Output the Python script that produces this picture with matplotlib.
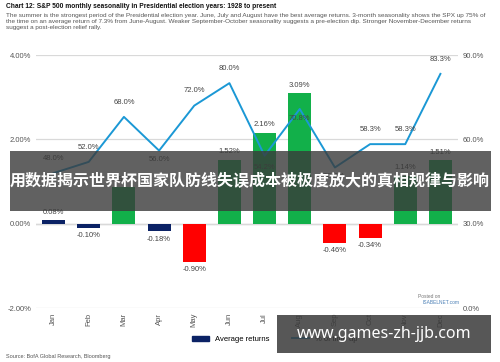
import matplotlib.pyplot as plt
import matplotlib.patches as mpatches
from matplotlib.lines import Line2D

months = ["Jan", "Feb", "Mar", "Apr", "May", "Jun", "Jul", "Aug", "Sep", "Oct", "Nov", "Dec"]
avg_returns = [0.08, -0.10, 0.86, -0.18, -0.90, 1.52, 2.16, 3.09, -0.46, -0.34, 1.14, 1.51]
pct_up = [48.0, 52.0, 68.0, 56.0, 72.0, 80.0, 54.2, 70.8, 50.0, 58.3, 58.3, 83.3]
left_ticks = [-2, 0, 2, 4]
right_ticks = [0, 30, 60, 90]

title = "Chart 12: S&P 500 monthly seasonality in Presidential election years: 1928 to present"
subtitle = ("The summer is the strongest period of the Presidential election year. June, July and August have the best average returns. 3-month seasonality shows the SPX up 75% of\n"
            "the time on an average return of 7.3% from June-August. Weaker September-October seasonality suggests a pre-election dip. Stronger November-December returns\n"
            "suggest a post-election relief rally.")
banner = "用数据揭示世界杯国家队防线失误成本被极度放大的真相规律与影响"
site = "www.games-zh-jjb.com"

NAVY = "#0b2265"
GREEN = "#12b04a"
RED = "#ff0000"
BLUE = "#1b98d5"


def bar_color(v):
    if v < -0.3:
        return RED
    if v > 0.5:
        return GREEN
    return NAVY


fig = plt.figure(figsize=(5, 3.62), dpi=100)
narrow = ["Liberation Sans Narrow", "Liberation Sans", "DejaVu Sans"]

fig.text(0.012, 0.992, title, fontsize=4.8, fontweight="bold", family=narrow, va="top", color="#111111")
fig.text(0.012, 0.965, subtitle, fontsize=4.55, family=narrow, va="top", color="#555555", linespacing=1.35)

ax = fig.add_axes([0.072, 0.149, 0.844, 0.699])
x = list(range(len(months)))
ax.bar(x, avg_returns, width=0.65, color=[bar_color(v) for v in avg_returns], zorder=3)
ax.set_xlim(-0.5, 11.5)
ax.set_ylim(-2, 4)
ax.set_yticks(left_ticks)
ax.set_yticklabels([f"{t:.2f}%" for t in left_ticks])
ax.grid(axis="y", color="#d9d9d9", linewidth=0.9, zorder=0)
ax.axhline(0, color="#bfbfbf", linewidth=0.9, zorder=1)
for s in ax.spines.values():
    s.set_visible(False)
ax.tick_params(axis="both", length=0, labelsize=5.5, labelcolor="#555555")
ax.set_xticks(x)
ax.set_xticklabels(months, rotation=90)
for lbl in ax.get_yticklabels() + ax.get_xticklabels():
    lbl.set_family(narrow)

for i, v in enumerate(avg_returns):
    off = 0.1 if v >= 0 else -0.1
    ax.text(i, v + off, f"{v:.2f}%", ha="center", va="bottom" if v >= 0 else "top",
            fontsize=5.5, family=narrow, color="#444444", zorder=5)

ax2 = ax.twinx()
ax2.set_ylim(0, 90)
ax2.set_yticks(right_ticks)
ax2.set_yticklabels([f"{t:.1f}%" for t in right_ticks])
for s in ax2.spines.values():
    s.set_visible(False)
ax2.tick_params(axis="y", length=0, labelsize=5.5, labelcolor="#555555")
for lbl in ax2.get_yticklabels():
    lbl.set_family(narrow)
ax2.plot(x, pct_up, color=BLUE, linewidth=1.4, zorder=4)
label_off = [4, 4, 4, -2, 4, 4, -3, -2, -2, 4, 4, 4]
for i, v in enumerate(pct_up):
    ax2.text(i, v + label_off[i], f"{v:.1f}%", ha="center", va="bottom" if label_off[i] > 0 else "top",
             fontsize=5.5, family=narrow, color="#444444", zorder=5)

fig.text(0.835, 0.178, "Posted on", fontsize=3.5, color="#777777", family=narrow)
fig.text(0.845, 0.16, "ISABELNET.com", fontsize=3.5, color="#4a7fb5", family=narrow)

handles = [mpatches.Patch(color=NAVY, label="Average returns"),
           Line2D([0], [0], color=BLUE, linewidth=1.4, label="% of time up")]
fig.legend(handles=handles, loc="center", bbox_to_anchor=(0.55, 0.063), ncol=2, frameon=False,
           prop={"family": narrow, "size": 5.5}, handlelength=2.2, columnspacing=3)

fig.text(0.012, 0.01, "Source: BofA Global Research, Bloomberg", fontsize=4, family=narrow, color="#555555")

# overlays
fig.patches.append(mpatches.Rectangle((0.02, 0.418), 0.962, 0.166, transform=fig.transFigure,
                                      facecolor="#3a3a3a", alpha=0.8, zorder=10))
fig.text(0.5, 0.5, banner, ha="center", va="center", fontsize=11.5, fontweight="bold", color="white",
         family=["Noto Sans CJK SC", "DejaVu Sans"], zorder=11)
fig.patches.append(mpatches.Rectangle((0.554, 0.025), 0.428, 0.105, transform=fig.transFigure,
                                      facecolor="#3a3a3a", alpha=0.85, zorder=10))
fig.text(0.768, 0.077, site, ha="center", va="center", fontsize=11.5, fontweight="bold", color="white",
         family=["Noto Sans", "DejaVu Sans"], zorder=11)

fig.savefig("out.png", dpi=100)
